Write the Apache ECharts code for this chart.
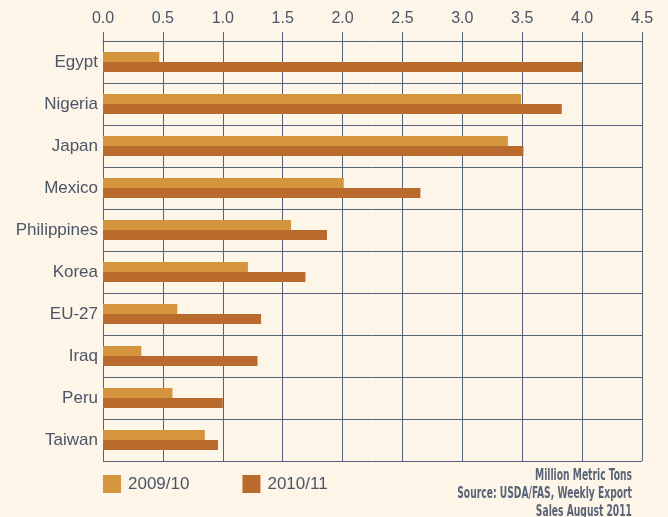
<!DOCTYPE html>
<html>
<head>
<meta charset="utf-8">
<script src="https://cdn.jsdelivr.net/npm/echarts@6/dist/echarts.min.js"></script>
<style>
  html, body { margin: 0; padding: 0; background: #fdf5e8; }
  #chart { width: 668px; height: 517px; }
</style>
</head>
<body>
<div id="chart"></div>
<script>
const countries = ["Egypt", "Nigeria", "Japan", "Mexico", "Philippines", "Korea", "EU-27", "Iraq", "Peru", "Taiwan"];
const season0910 = [0.47, 3.49, 3.38, 2.01, 1.57, 1.21, 0.62, 0.32, 0.58, 0.85];
const season1011 = [4.0, 3.83, 3.51, 2.65, 1.87, 1.69, 1.32, 1.29, 1.0, 0.96];
const seriesNames = ["2009/10", "2010/11"];
const noteLines = ["Million Metric Tons", "Source: USDA/FAS, Weekly Export", "Sales August 2011"];

const textColor = "#4b5568";
const gridColor = "#56627a";

const chart = echarts.init(document.getElementById("chart"), null, { renderer: "canvas" });

chart.setOption({
  backgroundColor: "#fdf5e8",
  animation: false,
  color: ["#d4953e", "#b86b2c"],
  textStyle: { fontFamily: "'Liberation Sans', Arial, sans-serif" },
  grid: { left: 103, right: 26, top: 41, bottom: 56 },
  legend: {
    data: seriesNames,
    left: 98,
    top: 470,
    itemWidth: 18,
    itemHeight: 18,
    itemGap: 53,
    icon: "rect",
    textStyle: { color: textColor, fontSize: 17, padding: [0, 0, 0, 2] },
  },
  xAxis: {
    type: "value",
    position: "top",
    min: 0,
    max: 4.5,
    interval: 0.5,
    axisLine: { show: true, lineStyle: { color: gridColor, width: 1 } },
    axisTick: { show: true, length: 9, lineStyle: { color: gridColor } },
    axisLabel: {
      color: textColor,
      fontSize: 16,
      margin: 14,
      formatter: (v) => v.toFixed(1),
    },
    splitLine: { show: true, lineStyle: { color: gridColor, width: 1 } },
  },
  yAxis: {
    type: "category",
    data: countries,
    inverse: true,
    axisLine: { show: true, lineStyle: { color: gridColor } },
    axisTick: { show: false },
    axisLabel: { color: textColor, fontSize: 17, margin: 5 },
    splitLine: { show: true, lineStyle: { color: gridColor, width: 1 } },
  },
  series: [
    {
      name: seriesNames[0],
      type: "bar",
      data: season0910,
      barWidth: 10,
      barGap: "0%",
    },
    {
      name: seriesNames[1],
      type: "bar",
      data: season1011,
      barWidth: 10,
      barGap: "0%",
    },
  ],
  // source note, condensed bold text bottom right
  graphic: noteLines.map((line, i) => ({
    type: "text",
    x: 632,
    y: 476 + i * 18.2,
    scaleX: 0.68,
    style: {
      text: line,
      fill: "#5a6478",
      font: "bold 15px 'Liberation Sans Narrow', 'DejaVu Sans Condensed', sans-serif",
      textAlign: "right",
      textVerticalAlign: "middle",
    },
  })),
});
</script>
</body>
</html>
